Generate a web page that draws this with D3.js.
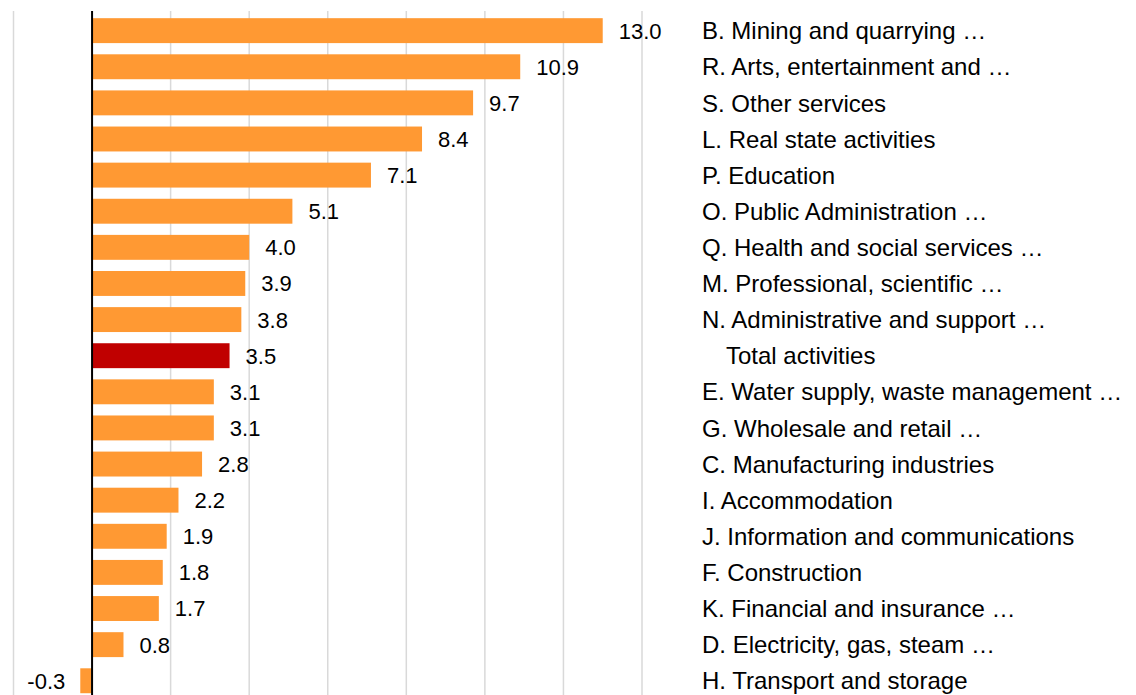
<!DOCTYPE html>
<html>
<head>
<meta charset="utf-8">
<script src="https://cdn.jsdelivr.net/npm/d3@7"></script>
<style>
  body { margin: 0; background: #fff; }
  text { font-family: "Liberation Sans", Arial, sans-serif; }
</style>
</head>
<body>
<svg id="chart" width="1136" height="695"></svg>
<script>
// sectors, top to bottom
var categories = [
    "B. Mining and quarrying \u2026",
    "R. Arts, entertainment and \u2026",
    "S. Other services",
    "L. Real state activities",
    "P. Education",
    "O. Public Administration \u2026",
    "Q. Health and social services \u2026",
    "M. Professional, scientific \u2026",
    "N. Administrative and support \u2026",
    "Total activities",
    "E. Water supply, waste management \u2026",
    "G. Wholesale and retail \u2026",
    "C. Manufacturing industries",
    "I. Accommodation",
    "J. Information and communications",
    "F. Construction",
    "K. Financial and insurance \u2026",
    "D. Electricity, gas, steam \u2026",
    "H. Transport and storage"
];
var values = [13.0, 10.9, 9.7, 8.4, 7.1, 5.1, 4.0, 3.9, 3.8, 3.5, 3.1, 3.1, 2.8, 2.2, 1.9, 1.8, 1.7, 0.8, -0.3];
var highlight = "Total activities";
var gridTicks = [-2, 0, 2, 4, 6, 8, 10, 12, 14];

var svg = d3.select("#chart");

var x = d3.scaleLinear().domain([-2, 14]).range([13.5, 642]);
var y = d3.scaleBand().domain(categories).range([12.4, 699]).paddingInner(0.31).paddingOuter(0.16);

// gridlines
svg.append("g").selectAll("line")
    .data(gridTicks.filter(function(d) { return d != 0; }))
    .enter().append("line")
    .attr("x1", function(d) { return x(d); })
    .attr("x2", function(d) { return x(d); })
    .attr("y1", 11)
    .attr("y2", 695)
    .attr("stroke", "#d9d9d9")
    .attr("stroke-width", 1.5);

// bars
svg.append("g").selectAll("rect")
    .data(values)
    .enter().append("rect")
    .attr("x", function(d) { return x(Math.min(0, d)); })
    .attr("y", function(d, i) { return y(categories[i]); })
    .attr("width", function(d) { return Math.abs(x(d) - x(0)); })
    .attr("height", y.bandwidth())
    .attr("fill", function(d, i) { return categories[i] == highlight ? "#c00000" : "#ff9933"; });

// zero axis
svg.append("line")
    .attr("x1", x(0)).attr("x2", x(0))
    .attr("y1", 11).attr("y2", 695)
    .attr("stroke", "#000")
    .attr("stroke-width", 2);

// value labels
svg.append("g").selectAll("text")
    .data(values)
    .enter().append("text")
    .attr("x", function(d) { return d < 0 ? x(d) - 15 : x(d) + 16; })
    .attr("y", function(d, i) { return y(categories[i]) + y.bandwidth() / 2; })
    .attr("dy", "0.36em")
    .attr("text-anchor", function(d) { return d < 0 ? "end" : "start"; })
    .attr("font-size", 22)
    .attr("fill", "#000")
    .text(function(d) { return d.toFixed(1); });

// category labels (total is indented)
svg.append("g").selectAll("text")
    .data(categories)
    .enter().append("text")
    .attr("x", function(d) { return d == highlight ? 726 : 702; })
    .attr("y", function(d) { return y(d) + y.bandwidth() / 2; })
    .attr("dy", "0.36em")
    .attr("font-size", 24)
    .attr("fill", "#000")
    .text(function(d) { return d; });
</script>
</body>
</html>
